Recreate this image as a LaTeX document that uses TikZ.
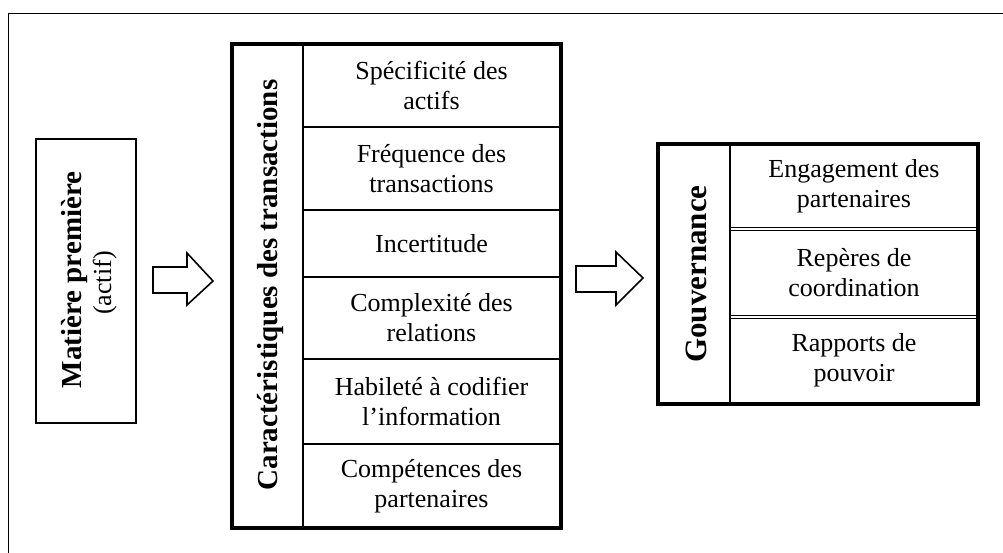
\documentclass[tikz,border=0pt]{standalone}
\usepackage{fontspec}
\setmainfont{Liberation Serif}
\begin{document}
\begin{tikzpicture}[x=1pt,y=-1pt,
  cell/.style={draw, line width=1.3pt, rectangle, inner sep=0pt, outer sep=0pt, anchor=north west, align=center, font=\fontsize{26}{30}\selectfont},
  thickbox/.style={draw, line width=3.3pt},
  thinline/.style={line width=1.3pt},
  dbl/.style={draw, line width=0.8pt, double, double distance=2.2pt},
  blockarrow/.style={draw, line width=1.6pt, fill=white, line join=miter},
  frame/.style={line width=1.5pt},
  vtitle/.style={rotate=90, inner sep=0pt, anchor=base, font=\fontsize{29}{32}\selectfont\bfseries},
  vplain/.style={rotate=90, inner sep=0pt, anchor=base, font=\fontsize{26}{30}\selectfont}
]
\useasboundingbox (0,0) rectangle (1003,552);
\clip (0,0) rectangle (1003,552);
% outer frame (cropped)
\coordinate (fTR) at (1010,13.5);
\coordinate (fTL) at (8.5,13.5);
\coordinate (fBL) at (8.5,560);
\draw[frame] (fTR) -- (fTL) -- (fBL);

% Matiere premiere
\node[draw, line width=1.8pt, rectangle, inner sep=0pt, minimum width=100, minimum height=284, anchor=north west] (mp) at (35,138) {};
\node[vtitle] (mptext) at (81,280) {Matière première};
\node[vplain] (mpsub) at (111,283) {(actif)};

% arrow 1
\coordinate (a1) at (153,267);
\draw[blockarrow] (a1) -- (187,267) -- (187,253) -- (213,281) -- (187,305) -- (187,293) -- (153,293) -- cycle;

% Caracteristiques box
\node[cell, minimum width=257, minimum height=84] (c1) at (303,43) {Spécificité des\\actifs};
\node[cell, minimum width=257, minimum height=83] (c2) at (303,127) {Fréquence des\\transactions};
\node[cell, minimum width=257, minimum height=67] (c3) at (303,210) {Incertitude};
\node[cell, minimum width=257, minimum height=82] (c4) at (303,277) {Complexité des\\relations};
\node[cell, minimum width=257, minimum height=85] (c5) at (303,359) {Habileté à codifier\\l’information};
\node[cell, minimum width=257, minimum height=84] (c6) at (303,444) {Compétences des\\partenaires};
\node[thickbox, rectangle, inner sep=0pt, outer sep=0pt, minimum width=329, minimum height=484, anchor=north west] (ct) at (232,44) {};
\draw[thinline] (c1.north west) -- (c6.south west);
\node[vtitle] (cttitle) at (277,285) {Caractéristiques des transactions};

% arrow 2
\coordinate (a2) at (576,266);
\draw[blockarrow] (a2) -- (616,266) -- (616,252) -- (643,278) -- (616,305) -- (616,292) -- (576,292) -- cycle;

% Gouvernance box
\node[cell, minimum width=248, minimum height=86] (g1) at (730,143) {Engagement des\\partenaires};
\node[cell, minimum width=248, minimum height=88] (g2) at (730,229) {Repères de\\coordination};
\node[cell, minimum width=248, minimum height=87] (g3) at (730,317) {Rapports de\\pouvoir};
\draw[dbl] (g1.south west) -- (g1.south east);
\draw[dbl] (g2.south west) -- (g2.south east);
\node[thickbox, rectangle, inner sep=0pt, outer sep=0pt, minimum width=320, minimum height=260, anchor=north west] (gv) at (658,144) {};
\draw[thinline] (g1.north west) -- (g3.south west);
\node[vtitle, font=\fontsize{31}{34}\selectfont\bfseries] (gvtitle) at (706,274) {Gouvernance};
\end{tikzpicture}
\end{document}
